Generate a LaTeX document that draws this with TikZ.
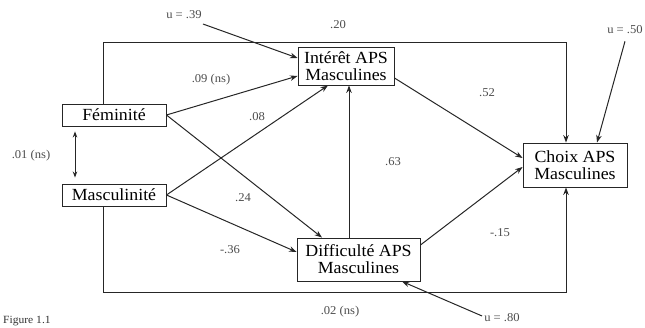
\documentclass[tikz,border=0pt]{standalone}
\usepackage{fontspec}
\setmainfont{Liberation Serif}[FakeStretch=1.05]
\usetikzlibrary{arrows.meta,calc}
\begin{document}
\begin{tikzpicture}[x=1pt,y=-1pt,
  box/.style={draw=black!85,line width=0.9pt,inner sep=0pt,align=center,font=\fontsize{17}{17}\selectfont},
  arr/.style={draw=black!85,line width=1pt,-{Stealth[length=7.5pt,width=5.5pt]}},
  lab/.style={font=\fontsize{12}{12}\selectfont,text=black!70,inner sep=0pt}]
\useasboundingbox (0,0) rectangle (645,328);
\clip (0,0) rectangle (645,328);

\node[box,minimum width=104pt,minimum height=22pt] (fem) at (114,115) {Féminité};
\node[box,minimum width=104pt,minimum height=22pt] (masc) at (114,195) {Masculinité};
\node[box,minimum width=96pt,minimum height=38pt] (int) at (346,66) {Intérêt APS\\Masculines};
\node[box,minimum width=123pt,minimum height=43pt] (dif) at (358.5,259.5) {Difficulté APS\\Masculines};
\node[box,minimum width=104pt,minimum height=44pt] (cho) at (575,165) {Choix APS\\Masculines};

% error terms
\node[lab] (lu1) at (184,15) {u = .39};
\node[lab] (lu2) at (625,30) {u = .50};
\node[lab] (lu3) at (502,318) {u = .80};

% path labels
\node[lab] (l20) at (338,25) {.20};
\node[lab] (l09) at (211,80) {.09 (ns)};
\node[lab] (l08) at (257,117) {.08};
\node[lab] (l24) at (243,198) {.24};
\node[lab] (l36) at (230,250) {-.36};
\node[lab] (l63) at (393,162) {.63};
\node[lab] (l52) at (487,93) {.52};
\node[lab] (l15) at (500,233) {-.15};
\node[lab] (l02) at (340,312) {.02 (ns)};
\node[lab] (l01) at (31,156) {.01 (ns)};

\node[anchor=south west,inner sep=0pt,font=\fontsize{11}{11}\selectfont,text=black!80] (cap) at (3,326) {Figure 1.1};

% connectors
\draw[arr] (fem.east) -- ([yshift=-10pt]int.west);
\draw[arr] (fem.east) -- ([xshift=-36.5pt]dif.north);
\draw[arr] (masc.east) -- ([xshift=-18pt]int.south);
\draw[arr] (masc.east) -- ([yshift=7.5pt]dif.west);
\draw[arr] ([xshift=3pt]int.south |- dif.north) -- ([xshift=3pt]int.south);
\draw[arr] ([yshift=-12pt]int.east) -- ([yshift=7pt]cho.west);
\draw[arr] ([yshift=14.5pt]dif.east) -- ([yshift=-2pt]cho.west);
\draw[arr] ([xshift=-11pt]fem.north) -- ++(0,-61) -| ([xshift=-9pt]cho.north);
\draw[arr] ([xshift=-11pt]masc.south) -- ++(0,86) -| ([xshift=-9pt]cho.south);
\draw[draw=black!85,line width=1pt,{Stealth[length=6pt,width=4.5pt]}-{Stealth[length=6pt,width=4.5pt]}]
  ([xshift=-39pt,yshift=-5pt]fem.south) -- ([xshift=-39pt,yshift=6pt]masc.north);

\draw[arr] ([shift={(1pt,-9pt)}]lu1.east) -- ([yshift=8pt]int.west);
\draw[arr] ([shift={(0pt,-7pt)}]lu2.south) -- ([xshift=22pt]cho.north);
\draw[arr] ([shift={(-2pt,2pt)}]lu3.west) -- ([xshift=43.5pt]dif.south);
\end{tikzpicture}
\end{document}
